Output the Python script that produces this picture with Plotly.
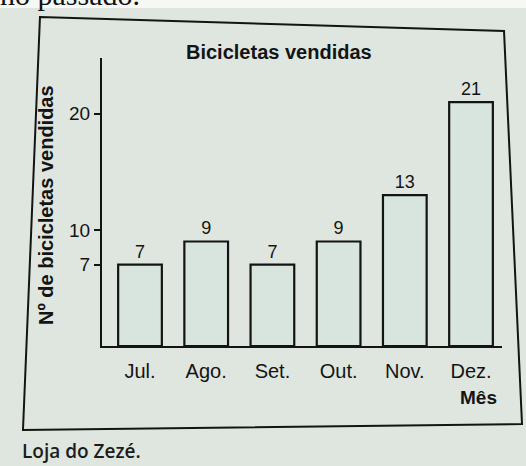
import plotly.graph_objects as go

# Monthly bicycle sales at the shop
meses = ["Jul.", "Ago.", "Set.", "Out.", "Nov.", "Dez."]
vendidas = [7, 9, 7, 9, 13, 21]
y_ticks = [7, 10, 20]

W, H = 526, 466
PAPER = "#dfe6e0"
INK = "#141414"
SANS = "Liberation Sans, Arial, sans-serif"


def px(x, y):
    """Convert pixel position (from top-left) to paper coordinates."""
    return x / W, 1 - y / H


fig = go.Figure(
    go.Bar(
        x=meses,
        y=vendidas,
        marker=dict(color="#d7e5de", line=dict(color=INK, width=2.2)),
        text=vendidas,
        textposition="outside",
        textfont=dict(family=SANS, size=18, color=INK),
        cliponaxis=False,
        width=0.66,
    )
)

# White page strip above the printed card
x0, y0 = px(0, 0)
x1, y1 = px(W, 8)
fig.add_shape(type="rect", xref="paper", yref="paper", x0=x0, y0=y1, x1=x1, y1=y0,
              line=dict(width=0), fillcolor="#f7f8f6", layer="below")

# Hand-drawn looking frame around the chart
corners = [(40, 17), (504, 31), (522, 424), (23, 430)]
path = "M " + " L ".join(f"{px(x, y)[0]:.4f},{px(x, y)[1]:.4f}" for x, y in corners) + " Z"
fig.add_shape(type="path", path=path, xref="paper", yref="paper",
              line=dict(color=INK, width=2), fillcolor="rgba(0,0,0,0)", layer="below")

annotations = [
    dict(text="<b>Bicicletas vendidas</b>", x=px(279, 52)[0], y=px(279, 52)[1],
         font=dict(family=SANS, size=20, color=INK)),
    dict(text="<b>Nº de bicicletas vendidas</b>", x=px(46, 205)[0], y=px(46, 205)[1],
         textangle=-90, font=dict(family=SANS, size=20, color=INK)),
    dict(text="<b>Mês</b>", x=px(478, 397)[0], y=px(478, 397)[1],
         font=dict(family=SANS, size=19, color=INK)),
    dict(text="Loja do Zezé.", x=px(20, 451)[0], y=px(20, 451)[1], xanchor="left",
         font=dict(family="Open Sans, Noto Sans, sans-serif", size=19, color="#1c1c1c",
                   weight=600)),
    dict(text="no passado.", x=px(-2, 13)[0], y=px(-2, 13)[1], xanchor="left", yanchor="bottom",
         font=dict(family="Liberation Serif, serif", size=30, color="#111")),
]
for a in annotations:
    a.setdefault("xanchor", "center")
    a.setdefault("yanchor", "middle")
    fig.add_annotation(xref="paper", yref="paper", showarrow=False, **a)

fig.update_layout(
    width=W,
    height=H,
    margin=dict(l=0, r=0, t=0, b=0),
    paper_bgcolor=PAPER,
    plot_bgcolor=PAPER,
    showlegend=False,
    bargap=0.34,
    xaxis=dict(
        domain=[102 / W, 502 / W],
        range=[-0.574, 5.468],
        showline=True, linewidth=2, linecolor=INK,
        showgrid=False, zeroline=False, ticks="",
        ticklabelstandoff=6,
        tickfont=dict(family=SANS, size=20, color=INK),
    ),
    yaxis=dict(
        domain=[1 - 346 / H, 1 - 58 / H],
        range=[0, 24.8],
        tickvals=y_ticks,
        showline=True, linewidth=2, linecolor=INK,
        showgrid=False, zeroline=False,
        ticks="outside", ticklen=6, tickwidth=2, tickcolor=INK,
        tickfont=dict(family=SANS, size=19, color=INK),
    ),
)

fig.write_html("out.html")
